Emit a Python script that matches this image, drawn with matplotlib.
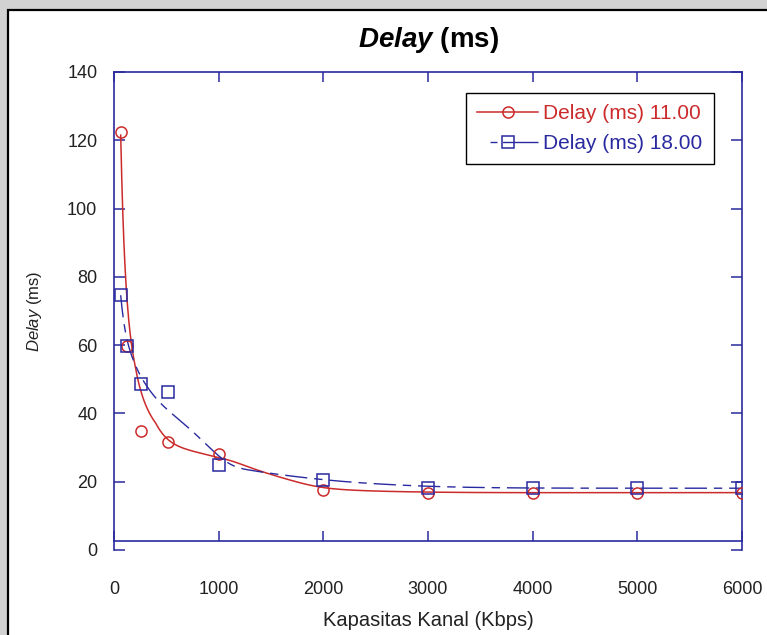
import numpy as np
import matplotlib
matplotlib.use("Agg")
import matplotlib.pyplot as plt
from matplotlib.patches import Rectangle
from matplotlib.lines import Line2D

plt.rcParams['font.family'] = ['Liberation Sans', 'DejaVu Sans']
plt.rcParams['mathtext.fontset'] = 'custom'
plt.rcParams['mathtext.rm'] = 'Liberation Sans'
plt.rcParams['mathtext.it'] = 'Liberation Sans:italic'
plt.rcParams['mathtext.bf'] = 'Liberation Sans:bold'
plt.rcParams['mathtext.bfit'] = 'Liberation Sans:italic:bold'

# ---- data ----
kapasitas = [64, 128, 256, 512, 1000, 2000, 3000, 4000, 5000, 6000]
delay_11 = [122.3, 59.7, 34.8, 31.6, 28.0, 17.7, 16.7, 16.8, 16.8, 16.8]
delay_18 = [74.7, 59.7, 48.5, 46.4, 25.0, 20.6, 18.1, 18.1, 18.1, 18.1]
label_11 = "Delay (ms) 11.00"
label_18 = "Delay (ms) 18.00"
xticks = [0, 1000, 2000, 3000, 4000, 5000, 6000]
yticks = [0, 20, 40, 60, 80, 100, 120, 140]

RED = '#cc2b2b'
BLUE = '#2a2aa0'
AXC = '#2a2a9e'


def smooth(x, y, grid):
    """local linear smoother in log(x); wider window in the knee region."""
    u = np.log10(np.asarray(x, float))
    yy = np.asarray(y, float)
    out = []
    for gi in np.log10(grid):
        h = np.interp(gi, [1.8, 2.3, 2.6, 3.1], [0.22, 0.34, 0.34, 0.12])
        w = np.exp(-0.5 * ((u - gi) / h) ** 2)
        W = w.sum()
        mu = (w * u).sum() / W
        my = (w * yy).sum() / W
        s = (w * (u - mu) * (yy - my)).sum() / (w * (u - mu) ** 2).sum()
        out.append(my + s * (gi - mu))
    return np.array(out)


W, H = 767, 635
fig = plt.figure(figsize=(W / 100, H / 100), dpi=100)
fig.patch.set_facecolor('#d2d2d2')
panel = Rectangle((8 / W, -0.1), 1.2, 1 - 10 / H + 0.1, transform=fig.transFigure,
                  facecolor='white', edgecolor='black', linewidth=1.6, zorder=0)
fig.add_artist(panel)

ax = fig.add_axes([114 / W, 1 - 550 / H, 628 / W, 478 / H])
ax.set_facecolor('white')

grid = np.logspace(np.log10(kapasitas[0]), np.log10(kapasitas[-1]), 600)
ax.plot(grid, smooth(kapasitas, delay_11, grid), color=RED, lw=1.1, zorder=3)
ax.plot(grid, smooth(kapasitas, delay_18, grid), color=BLUE, lw=1.0,
        dashes=(16, 5, 6, 5), zorder=3)
ax.plot(kapasitas, delay_11, linestyle='none', marker='o', ms=8, mfc='none',
        mec=RED, mew=1.1, zorder=4)
ax.plot(kapasitas, delay_18, linestyle='none', marker='s', ms=8, mfc='none',
        mec=BLUE, mew=1.1, zorder=4)

ax.set_xlim(0, 6000)
ax.set_ylim(0, 140)
ax.set_xticks(xticks)
ax.set_yticks(yticks)
for sp in ax.spines.values():
    sp.set_color(AXC)
    sp.set_linewidth(1.2)
ax.spines['bottom'].set_position(('data', 2.7))
ax.tick_params(axis='x', direction='in', length=7, width=1.1, color=AXC,
               top=True, bottom=True, labelsize=13, labelcolor='#222222', pad=29)
ax.tick_params(axis='y', direction='in', length=8, width=1.1, color=AXC,
               left=True, right=True, labelsize=13, labelcolor='#222222', pad=12)

ax.set_xlabel('Kapasitas Kanal (Kbps)', fontsize=14.5, color='#222222', labelpad=9)
fig.text(35 / W, 1 - 311 / H, r'$\mathit{Delay}$ (ms)', rotation=90, fontsize=12,
         color='#222222', ha='center', va='center')
fig.text(428 / W, 1 - 40 / H, r'$\mathbfit{Delay}$ (ms)', fontsize=20,
         fontweight='bold', color='black', ha='center', va='center')

h1 = Line2D([], [], color=RED, lw=1.1, marker='o', ms=8, mfc='none', mec=RED, mew=1.1)
h2 = Line2D([], [], color=BLUE, lw=1.0, linestyle=(39, (5, 4, 30, 9.4)), marker='s',
            ms=8, mfc='none', mec=BLUE, mew=1.1)
leg = ax.legend([h1, h2], [label_11, label_18], loc='upper right',
                bbox_to_anchor=(0.955, 0.956), borderaxespad=0, fancybox=False,
                edgecolor='black', framealpha=1, fontsize=15, numpoints=1,
                handlelength=2.9, handletextpad=0.25, borderpad=0.55, labelspacing=0.5)
leg.get_frame().set_linewidth(1.0)
for t, c in zip(leg.get_texts(), [RED, BLUE]):
    t.set_color(c)

fig.savefig('out.png', dpi=100, facecolor=fig.get_facecolor())
